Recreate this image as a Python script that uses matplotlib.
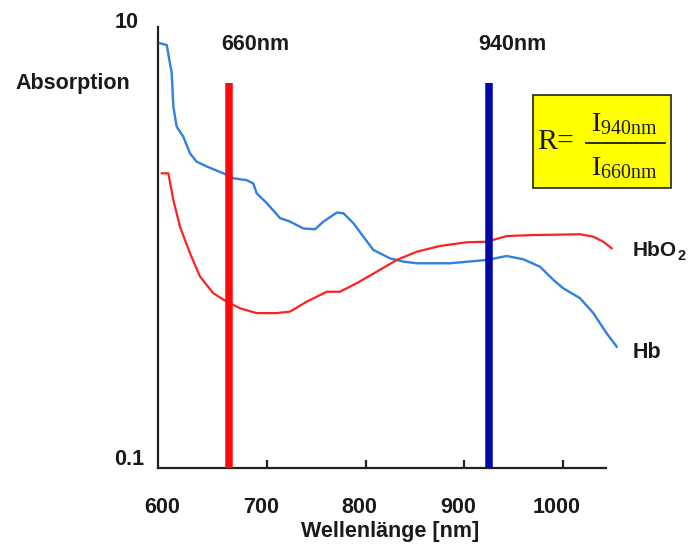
import matplotlib
matplotlib.use("Agg")
import matplotlib.pyplot as plt
from matplotlib.transforms import ScaledTranslation
import numpy as np

# ---- data ----
hb_wl = [591.4, 598.2, 603.2, 604.9, 608.3, 615.0, 621.8, 628.6, 638.8, 655.6, 665.8,
         679.4, 686.1, 689.5, 699.7, 713.2, 723.4, 736.9, 748.7, 757.2, 770.8, 777.5,
         787.6, 797.8, 807.9, 824.9, 838.4, 852.0, 885.8, 923.0, 943.4, 960.2, 977.2,
         990.7, 1000.8, 1017.8, 1031.3, 1044.9, 1055.0]
hb_abs = [8.44, 8.28, 6.17, 4.35, 3.53, 3.18, 2.67, 2.45, 2.33, 2.17, 2.06,
          2.02, 1.95, 1.76, 1.59, 1.36, 1.31, 1.22, 1.21, 1.31, 1.44, 1.43,
          1.29, 1.12, 0.975, 0.893, 0.863, 0.848, 0.848, 0.878, 0.915, 0.884, 0.818,
          0.713, 0.653, 0.589, 0.504, 0.408, 0.355]

hbo2_wl = [593.1, 599.8, 604.9, 611.7, 621.8, 632.0, 645.5, 659.1, 672.6, 689.5, 709.8,
           723.4, 740.3, 760.6, 774.1, 791.1, 811.4, 831.7, 852.0, 875.6, 902.7, 923.0,
           943.4, 970.4, 1017.8, 1031.3, 1041.4, 1049.9]
hbo2_abs = [2.17, 2.17, 1.64, 1.24, 0.941, 0.738, 0.620, 0.568, 0.530, 0.504, 0.504,
            0.512, 0.568, 0.630, 0.630, 0.689, 0.777, 0.878, 0.957, 1.016, 1.056, 1.062,
            1.127, 1.139, 1.148, 1.12, 1.062, 0.992]

marker_wl = [661, 925]
marker_labels = ["660nm", "940nm"]
marker_colors = ["#ff0a0a", "#0008a8"]
marker_top = 5.6

x_ticks = [600, 700, 800, 900, 1000]
y_ticks = [0.1, 10]
y_ticklabels = ["0.1", "10"]

# ---- figure ----
plt.rcParams['font.family'] = ['Liberation Sans', 'DejaVu Sans']
plt.rcParams['mathtext.fontset'] = 'custom'
plt.rcParams['mathtext.rm'] = 'Liberation Serif'
plt.rcParams['mathtext.it'] = 'Liberation Serif'
plt.rcParams['mathtext.bf'] = 'Liberation Serif:bold'

fig = plt.figure(figsize=(6.88, 5.5), dpi=100)
ax = fig.add_axes([158/688, 82/550, 463.6/688, 441/550])
ax.set_yscale('log')
ax.set_xlim(589.3, 1060)
ax.set_ylim(0.1, 10)

ax.plot(hb_wl, hb_abs, color="#2f80e0", lw=1.7, zorder=3)
ax.plot(hbo2_wl, hbo2_abs, color="#ff2020", lw=1.6, zorder=3)

for wl, lab, c in zip(marker_wl, marker_labels, marker_colors):
    ax.vlines(wl, 0.1, marker_top, colors=c, lw=5.4, zorder=4)

txt_col = "#1a1a1a"
fs = 15.5
ax.text(661, 10, "660nm", ha='center', va='center', fontsize=fs, fontweight='bold',
        color=txt_col, transform=ax.transData + ScaledTranslation(0.27, -0.18, fig.dpi_scale_trans))
ax.text(925, 10, "940nm", ha='center', va='center', fontsize=fs, fontweight='bold',
        color=txt_col, transform=ax.transData + ScaledTranslation(0.24, -0.18, fig.dpi_scale_trans))

# spines
for s in ['top', 'right']:
    ax.spines[s].set_visible(False)
for s in ['left', 'bottom']:
    ax.spines[s].set_linewidth(1.6)
    ax.spines[s].set_color("#222222")
ax.spines['bottom'].set_bounds(589.3, 1044)

ax.set_xticks(x_ticks)
ax.set_xticklabels([str(v) for v in x_ticks])
ax.tick_params(axis='x', direction='in', length=6, width=1.6, color="#222222",
               pad=21, labelsize=fs, labelcolor=txt_col)
for lab in ax.get_xticklabels():
    lab.set_fontweight('bold')
    lab.set_transform(lab.get_transform() + ScaledTranslation(-0.06, 0, fig.dpi_scale_trans))
ax.xaxis.get_major_ticks()[0].tick1line.set_visible(False)

ax.set_yticks(y_ticks)
ax.yaxis.set_minor_locator(matplotlib.ticker.NullLocator())
ax.set_yticklabels(y_ticklabels)
ax.tick_params(axis='y', length=0, pad=10, labelsize=fs, labelcolor=txt_col)
for lab, (dx, dy) in zip(ax.get_yticklabels(), [(0.0, 0.11), (-0.05, 0.07)]):
    lab.set_fontweight('bold')
    lab.set_transform(lab.get_transform() + ScaledTranslation(dx, dy, fig.dpi_scale_trans))

ax.set_xlabel("Wellenlänge [nm]", fontsize=fs, fontweight='bold', color=txt_col, labelpad=2)

fig.text(15/688, 1 - 84/550, "Absorption", ha='left', va='center', fontsize=fs,
         fontweight='bold', color=txt_col)

# curve labels
fig.text(633/688, 1 - 250/550, "HbO", ha='left', va='center', fontsize=15,
         fontweight='bold', color=txt_col)
fig.text(677/688, 1 - 256/550, "2", ha='left', va='center', fontsize=10.5,
         fontweight='bold', color=txt_col)
fig.text(633/688, 1 - 353/550, "Hb", ha='left', va='center', fontsize=fs,
         fontweight='bold', color=txt_col)

# formula box
box = plt.Rectangle((533/688, 1 - 188/550), 138/688, 93/550, transform=fig.transFigure,
                    facecolor="#ffff00", edgecolor="#222222", lw=1.2, zorder=5)
fig.patches.append(box)
serif = ['Liberation Serif', 'DejaVu Serif']
fig.text(537/688, 1 - 142/550, "R=", ha='left', va='center', fontsize=21.5, family=serif,
         color=txt_col, zorder=6)
fig.text(591/688, 1 - 124/550, r"I$_{\mathrm{940nm}}$", ha='left', va='center', fontsize=20.5,
         family=serif, color=txt_col, zorder=6)
fig.text(591/688, 1 - 168/550, r"I$_{\mathrm{660nm}}$", ha='left', va='center', fontsize=20.5,
         family=serif, color=txt_col, zorder=6)
fig.add_artist(matplotlib.lines.Line2D([586/688, 665/688], [1 - 143/550, 1 - 143/550],
                                       transform=fig.transFigure, color=txt_col, lw=1.3, zorder=6))

fig.savefig("out.png", dpi=100)
